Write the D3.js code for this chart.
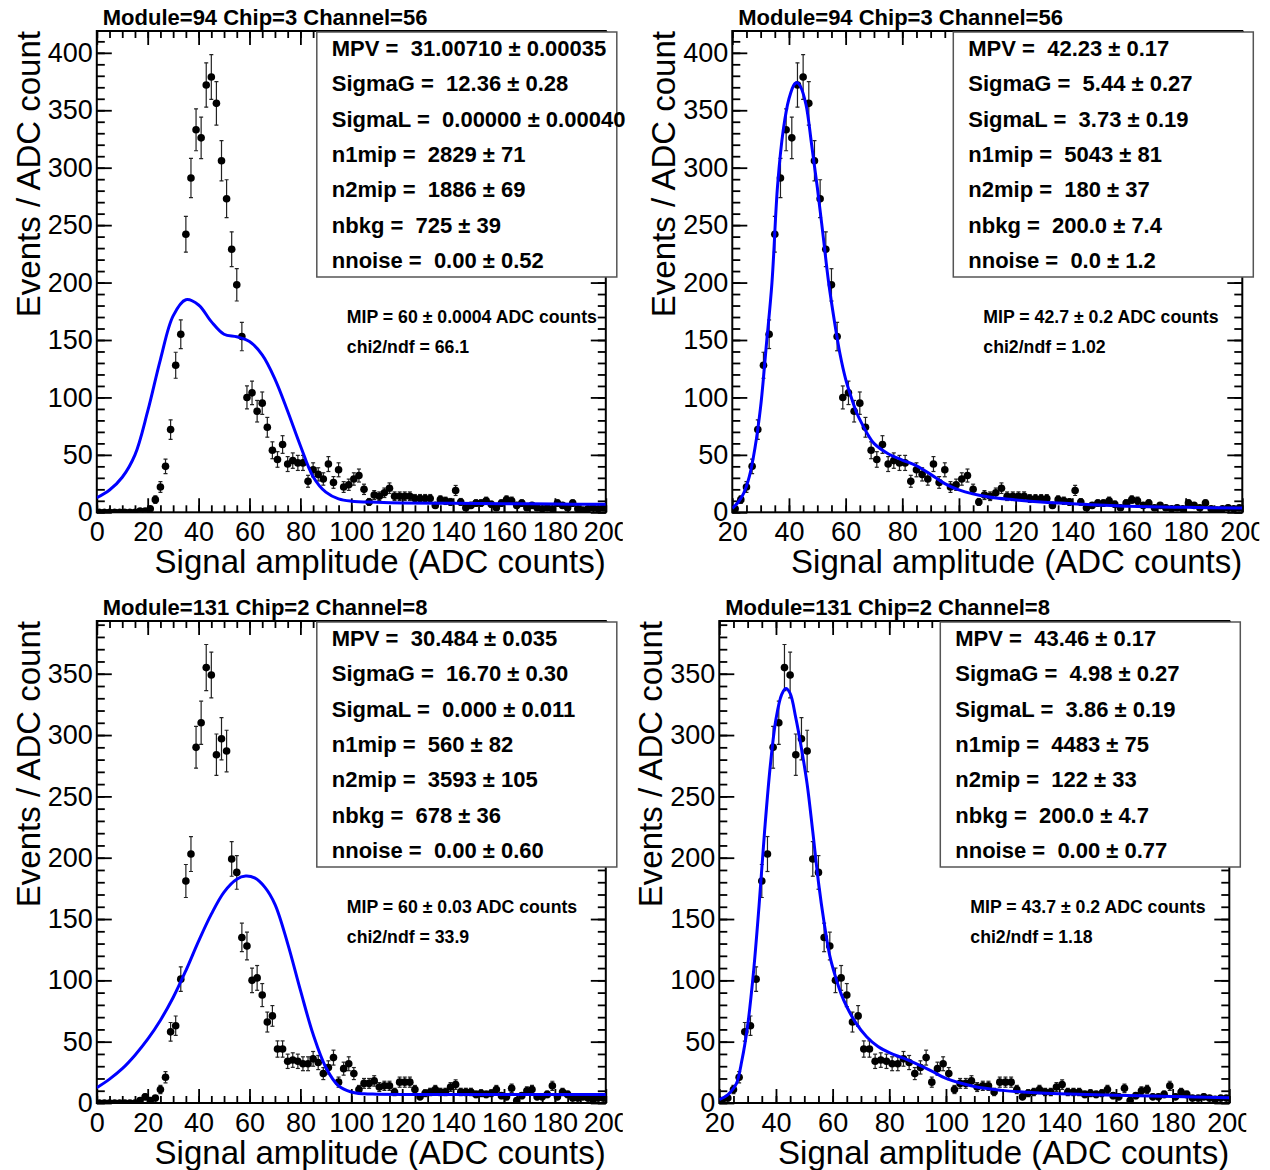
<!DOCTYPE html>
<html>
<head>
<meta charset="utf-8">
<script src="https://cdn.jsdelivr.net/npm/d3@7"></script>
<style>
body { margin: 0; background: #fff; }
text { font-family: "Liberation Sans", Arial, Helvetica, sans-serif; }
</style>
</head>
<body>
<div id="chart"></div>
<script>
// histogram bins: 2 ADC wide, centers 1..199
const binCenters = d3.range(1, 200, 2)

// Module=94 Chip=3 Channel=56
const counts94 = [0, 0, 0, 0, 0, 0, 0, 0, 1, 1,
    3, 11, 22, 40, 72, 128, 155, 242, 291, 333,
    326, 372, 379, 356, 306, 273, 229, 198, 153, 100,
    104, 88, 95, 74, 54, 46, 59, 42, 45, 43,
    43, 27, 37, 33, 29, 42, 26, 37, 22, 24,
    29, 32, 20, 9, 15, 14, 17, 21, 14, 14,
    14, 14, 12, 12, 12, 12, 6, 11, 10, 9,
    19, 9, 4, 6, 8, 8, 10, 7, 4, 8,
    11, 10, 6, 8, 4, 6, 4, 3, 4, 3,
    8, 6, 4, 8, 3, 2, 3, 4, 3, 4]

// Module=131 Chip=2 Channel=8
const counts131 = [0, 0, 0, 0, 0, 0, 0, 0, 2, 5,
    2, 4, 11, 21, 58, 63, 101, 181, 203, 290,
    310, 355, 349, 284, 297, 287, 199, 188, 135, 128,
    100, 102, 88, 66, 71, 44, 44, 34, 35, 34,
    32, 32, 36, 33, 24, 29, 37, 17, 28, 32,
    24, 11, 16, 16, 18, 13, 14, 14, 9, 17,
    17, 17, 11, 5, 8, 9, 11, 9, 9, 13,
    15, 9, 9, 9, 7, 8, 7, 8, 11, 6,
    5, 12, 2, 6, 10, 11, 5, 5, 7, 14,
    5, 9, 7, 4, 4, 5, 4, 3, 4, 4]

// fit curves
const fit94WideX = [0, 5, 10, 15, 20, 25, 30, 35, 40, 45, 50, 55, 60, 65, 70, 75, 80, 85, 90, 95, 100, 110, 120, 140, 160, 180, 200]
const fit94WideY = [12.7, 19.4, 30.5, 50, 88, 133, 171, 185, 180.5, 166, 155, 152.8, 148.7, 137, 116, 88, 58, 31, 17.5, 11.7, 9.7, 8.8, 8.2, 7.8, 7.5, 7.2, 7.0]

const fit94NarrowX = [20, 22, 24, 26, 28, 30, 32, 34, 36, 38, 40, 42, 43, 44, 46, 48, 50, 52, 54, 56, 58, 60, 62, 64, 66, 68, 70, 75, 80, 85, 90, 95, 100, 110, 120, 130, 140, 160, 180, 200]
const fit94NarrowY = [3.5, 8.5, 16.5, 31, 56, 92, 145, 200, 285, 333, 360, 373, 374, 371, 355, 320, 283, 242, 200, 167, 138, 116, 100, 86, 76, 67, 60, 51, 45.5, 40.5, 33, 25, 19.5, 13.5, 10.8, 8.8, 7.5, 5.2, 4.3, 3.8]

const fit131WideX = [0, 5, 10, 15, 20, 25, 30, 35, 40, 45, 50, 55, 58.5, 62, 66, 70, 75, 80, 85, 90, 95, 100, 105, 110, 120, 150, 200]
const fit131WideY = [12.5, 19.5, 28, 39, 52, 67.5, 86, 108, 132, 154, 172, 182.5, 185, 183.5, 176, 162, 130, 92, 56, 29, 14, 9, 7.5, 7.2, 7, 7, 7]

const fit131NarrowX = [20, 22, 24, 26, 28, 30, 32, 34, 36, 38, 40, 42, 43.5, 45, 47, 49, 51, 53, 55, 57, 59, 61, 63, 65, 68, 72, 76, 80, 85, 90, 95, 100, 110, 120, 130, 140, 160, 180, 200]
const fit131NarrowY = [2.8, 5, 9, 15.5, 35, 63, 105, 160, 222, 275, 313, 333, 338, 334, 314, 289, 260, 221, 180, 147, 120, 103, 89, 78.5, 66, 54, 46, 41, 36.5, 31.5, 26, 20, 13.5, 10.3, 8.5, 7.6, 6.3, 5.4, 4.3]

// fit parameters
const statNames = ['MPV', 'SigmaG', 'SigmaL', 'n1mip', 'n2mip', 'nbkg', 'nnoise']
const stats94WideVal = ['31.00710', '12.36', '0.00000', '2829', '1886', '725', '0.00']
const stats94WideErr = ['0.00035', '0.28', '0.00040', '71', '69', '39', '0.52']
const stats94NarrowVal = ['42.23', '5.44', '3.73', '5043', '180', '200.0', '0.0']
const stats94NarrowErr = ['0.17', '0.27', '0.19', '81', '37', '7.4', '1.2']
const stats131WideVal = ['30.484', '16.70', '0.000', '560', '3593', '678', '0.00']
const stats131WideErr = ['0.035', '0.30', '0.011', '82', '105', '36', '0.60']
const stats131NarrowVal = ['43.46', '4.98', '3.86', '4483', '122', '200.0', '0.00']
const stats131NarrowErr = ['0.17', '0.27', '0.19', '75', '33', '4.7', '0.77']

const mipTexts = ['MIP = 60 \u00b1 0.0004 ADC counts', 'MIP = 42.7 \u00b1 0.2 ADC counts', 'MIP = 60 \u00b1 0.03 ADC counts', 'MIP = 43.7 \u00b1 0.2 ADC counts']
const chiTexts = ['chi2/ndf = 66.1', 'chi2/ndf = 1.02', 'chi2/ndf = 33.9', 'chi2/ndf = 1.18']
const titles = ['Module=94 Chip=3 Channel=56', 'Module=94 Chip=3 Channel=56', 'Module=131 Chip=2 Channel=8', 'Module=131 Chip=2 Channel=8']

const W = 1270, H = 1170

const panels = [
    { left: 96.8, right: 605.8, top: 31, bottom: 512.3, xMin: 0, yMax: 419, counts: counts94, fx: fit94WideX, fy: fit94WideY, vals: stats94WideVal, errs: stats94WideErr },
    { left: 732.3, right: 1242.3, top: 31, bottom: 512.3, xMin: 20, yMax: 419, counts: counts94, fx: fit94NarrowX, fy: fit94NarrowY, vals: stats94NarrowVal, errs: stats94NarrowErr },
    { left: 96.8, right: 605.8, top: 621, bottom: 1103, xMin: 0, yMax: 393, counts: counts131, fx: fit131WideX, fy: fit131WideY, vals: stats131WideVal, errs: stats131WideErr },
    { left: 719.3, right: 1229.3, top: 621, bottom: 1103, xMin: 20, yMax: 393, counts: counts131, fx: fit131NarrowX, fy: fit131NarrowY, vals: stats131NarrowVal, errs: stats131NarrowErr }
]

const svg = d3.select('#chart').append('svg')
    .attr('width', W)
    .attr('height', H)
    .style('display', 'block')

const defs = svg.append('defs')

panels.forEach((p, i) => {
    const x = d3.scaleLinear().domain([p.xMin, 200]).range([p.left, p.right])
    const y = d3.scaleLinear().domain([0, p.yMax]).range([p.bottom, p.top])

    defs.append('clipPath').attr('id', 'frame' + i)
        .append('rect')
        .attr('x', p.left).attr('y', p.top)
        .attr('width', p.right - p.left).attr('height', p.bottom - p.top)
    // pad edge: cuts the last x label like the original canvas
    defs.append('clipPath').attr('id', 'pad' + i)
        .append('rect')
        .attr('x', p.left - 60).attr('y', p.top - 40)
        .attr('width', p.right - p.left + 77).attr('height', p.bottom - p.top + 120)

    const g = svg.append('g')

    const majorX = d3.range(p.xMin, 201, 20)
    const minorX = d3.range(p.xMin, 201, 5)
    const majorY = d3.range(0, p.yMax, 50)
    const minorY = d3.range(0, p.yMax, 10)

    // minor ticks on all four sides
    g.append('g').attr('transform', 'translate(0,' + p.bottom + ')')
        .call(d3.axisBottom(x).tickValues(minorX).tickSize(-7).tickSizeOuter(0).tickFormat(''))
    g.append('g').attr('transform', 'translate(0,' + p.top + ')')
        .call(d3.axisTop(x).tickValues(minorX).tickSize(-7).tickSizeOuter(0).tickFormat(''))
    g.append('g').attr('transform', 'translate(' + p.left + ',0)')
        .call(d3.axisLeft(y).tickValues(minorY).tickSize(-8).tickSizeOuter(0).tickFormat(''))
    g.append('g').attr('transform', 'translate(' + p.right + ',0)')
        .call(d3.axisRight(y).tickValues(minorY).tickSize(-8).tickSizeOuter(0).tickFormat(''))

    // major ticks
    g.append('g').attr('clip-path', 'url(#pad' + i + ')')
        .append('g').attr('transform', 'translate(0,' + p.bottom + ')')
        .call(d3.axisBottom(x).tickValues(majorX).tickSize(-14).tickSizeOuter(0).tickPadding(10).tickFormat(d3.format('d')))
    g.append('g').attr('transform', 'translate(0,' + p.top + ')')
        .call(d3.axisTop(x).tickValues(majorX).tickSize(-14).tickSizeOuter(0).tickFormat(''))
    g.append('g').attr('transform', 'translate(' + p.left + ',0)')
        .call(d3.axisLeft(y).tickValues(majorY).tickSize(-15).tickSizeOuter(0).tickPadding(4).tickFormat(d3.format('d')))
    g.append('g').attr('transform', 'translate(' + p.right + ',0)')
        .call(d3.axisRight(y).tickValues(majorY).tickSize(-15).tickSizeOuter(0).tickFormat(''))

    g.selectAll('.tick line').attr('stroke', '#000').attr('stroke-width', 1.8)
    g.selectAll('.domain').remove()
    g.selectAll('.tick text')
        .attr('font-family', '"Liberation Sans", Arial, sans-serif')
        .attr('font-size', 27)
        .attr('fill', '#000')

    // frame
    g.append('rect')
        .attr('x', p.left).attr('y', p.top)
        .attr('width', p.right - p.left).attr('height', p.bottom - p.top)
        .attr('fill', 'none').attr('stroke', '#000').attr('stroke-width', 2)

    // axis titles
    g.append('text')
        .attr('transform', 'translate(' + (p.left - 57) + ',' + p.top + ') rotate(-90)')
        .attr('text-anchor', 'end')
        .attr('font-size', 33)
        .text('Events / ADC count')
    g.append('text')
        .attr('x', p.right).attr('y', p.bottom + 61)
        .attr('text-anchor', 'end')
        .attr('font-size', 33)
        .text('Signal amplitude (ADC counts)')

    // title
    g.append('text')
        .attr('x', p.left + 6).attr('y', p.top - 6)
        .attr('font-size', 22).attr('font-weight', 'bold')
        .text(titles[i])

    // data points with poisson errors
    const bins = binCenters.map((c, k) => ({ x: c, n: p.counts[k] })).filter(d => d.x > p.xMin)
    const dots = g.append('g').attr('clip-path', 'url(#frame' + i + ')')
    const withErr = bins.filter(d => d.n > 0)
    dots.selectAll('line.err')
        .data(withErr)
        .enter().append('line')
        .attr('class', 'err')
        .attr('x1', d => x(d.x)).attr('x2', d => x(d.x))
        .attr('y1', d => y(d.n - Math.sqrt(d.n))).attr('y2', d => y(d.n + Math.sqrt(d.n)))
        .attr('stroke', '#222').attr('stroke-width', 1.2)
    dots.selectAll('line.capHi')
        .data(withErr)
        .enter().append('line')
        .attr('class', 'capHi')
        .attr('x1', d => x(d.x) - 2).attr('x2', d => x(d.x) + 2)
        .attr('y1', d => y(d.n + Math.sqrt(d.n))).attr('y2', d => y(d.n + Math.sqrt(d.n)))
        .attr('stroke', '#222').attr('stroke-width', 1.2)
    dots.selectAll('line.capLo')
        .data(withErr)
        .enter().append('line')
        .attr('class', 'capLo')
        .attr('x1', d => x(d.x) - 2).attr('x2', d => x(d.x) + 2)
        .attr('y1', d => y(d.n - Math.sqrt(d.n))).attr('y2', d => y(d.n - Math.sqrt(d.n)))
        .attr('stroke', '#222').attr('stroke-width', 1.2)
    dots.selectAll('circle')
        .data(bins)
        .enter().append('circle')
        .attr('cx', d => x(d.x))
        .attr('cy', d => y(d.n))
        .attr('r', 3.8)
        .attr('fill', '#000')

    // fit curve
    const line = d3.line()
        .x(d => x(d[0]))
        .y(d => y(d[1]))
        .curve(d3.curveCatmullRom.alpha(0.5))
    g.append('path')
        .datum(d3.zip(p.fx, p.fy))
        .attr('clip-path', 'url(#frame' + i + ')')
        .attr('d', line)
        .attr('fill', 'none')
        .attr('stroke', '#0000ff')
        .attr('stroke-width', 3)

    // stats box
    const boxLeft = p.right + 11 - 300
    const boxTop = p.top + 1
    const boxH = 245
    g.append('rect')
        .attr('x', boxLeft).attr('y', boxTop)
        .attr('width', 300).attr('height', boxH)
        .attr('fill', '#fff').attr('stroke', '#555').attr('stroke-width', 1.5)
    g.selectAll('text.stat')
        .data(statNames)
        .enter().append('text')
        .attr('class', 'stat')
        .attr('x', boxLeft + 15)
        .attr('y', (d, k) => boxTop + 24 + k * 35.3)
        .attr('font-size', 22).attr('font-weight', 'bold')
        .style('white-space', 'pre')
        .text((d, k) => d + ' =  ' + p.vals[k] + ' \u00b1 ' + p.errs[k])

    g.append('text')
        .attr('x', boxLeft + 30).attr('y', boxTop + boxH + 46)
        .attr('font-size', 17.7).attr('font-weight', 'bold')
        .style('white-space', 'pre')
        .text(mipTexts[i])
    g.append('text')
        .attr('x', boxLeft + 30).attr('y', boxTop + boxH + 76)
        .attr('font-size', 17.7).attr('font-weight', 'bold')
        .text(chiTexts[i])
})
</script>
</body>
</html>
